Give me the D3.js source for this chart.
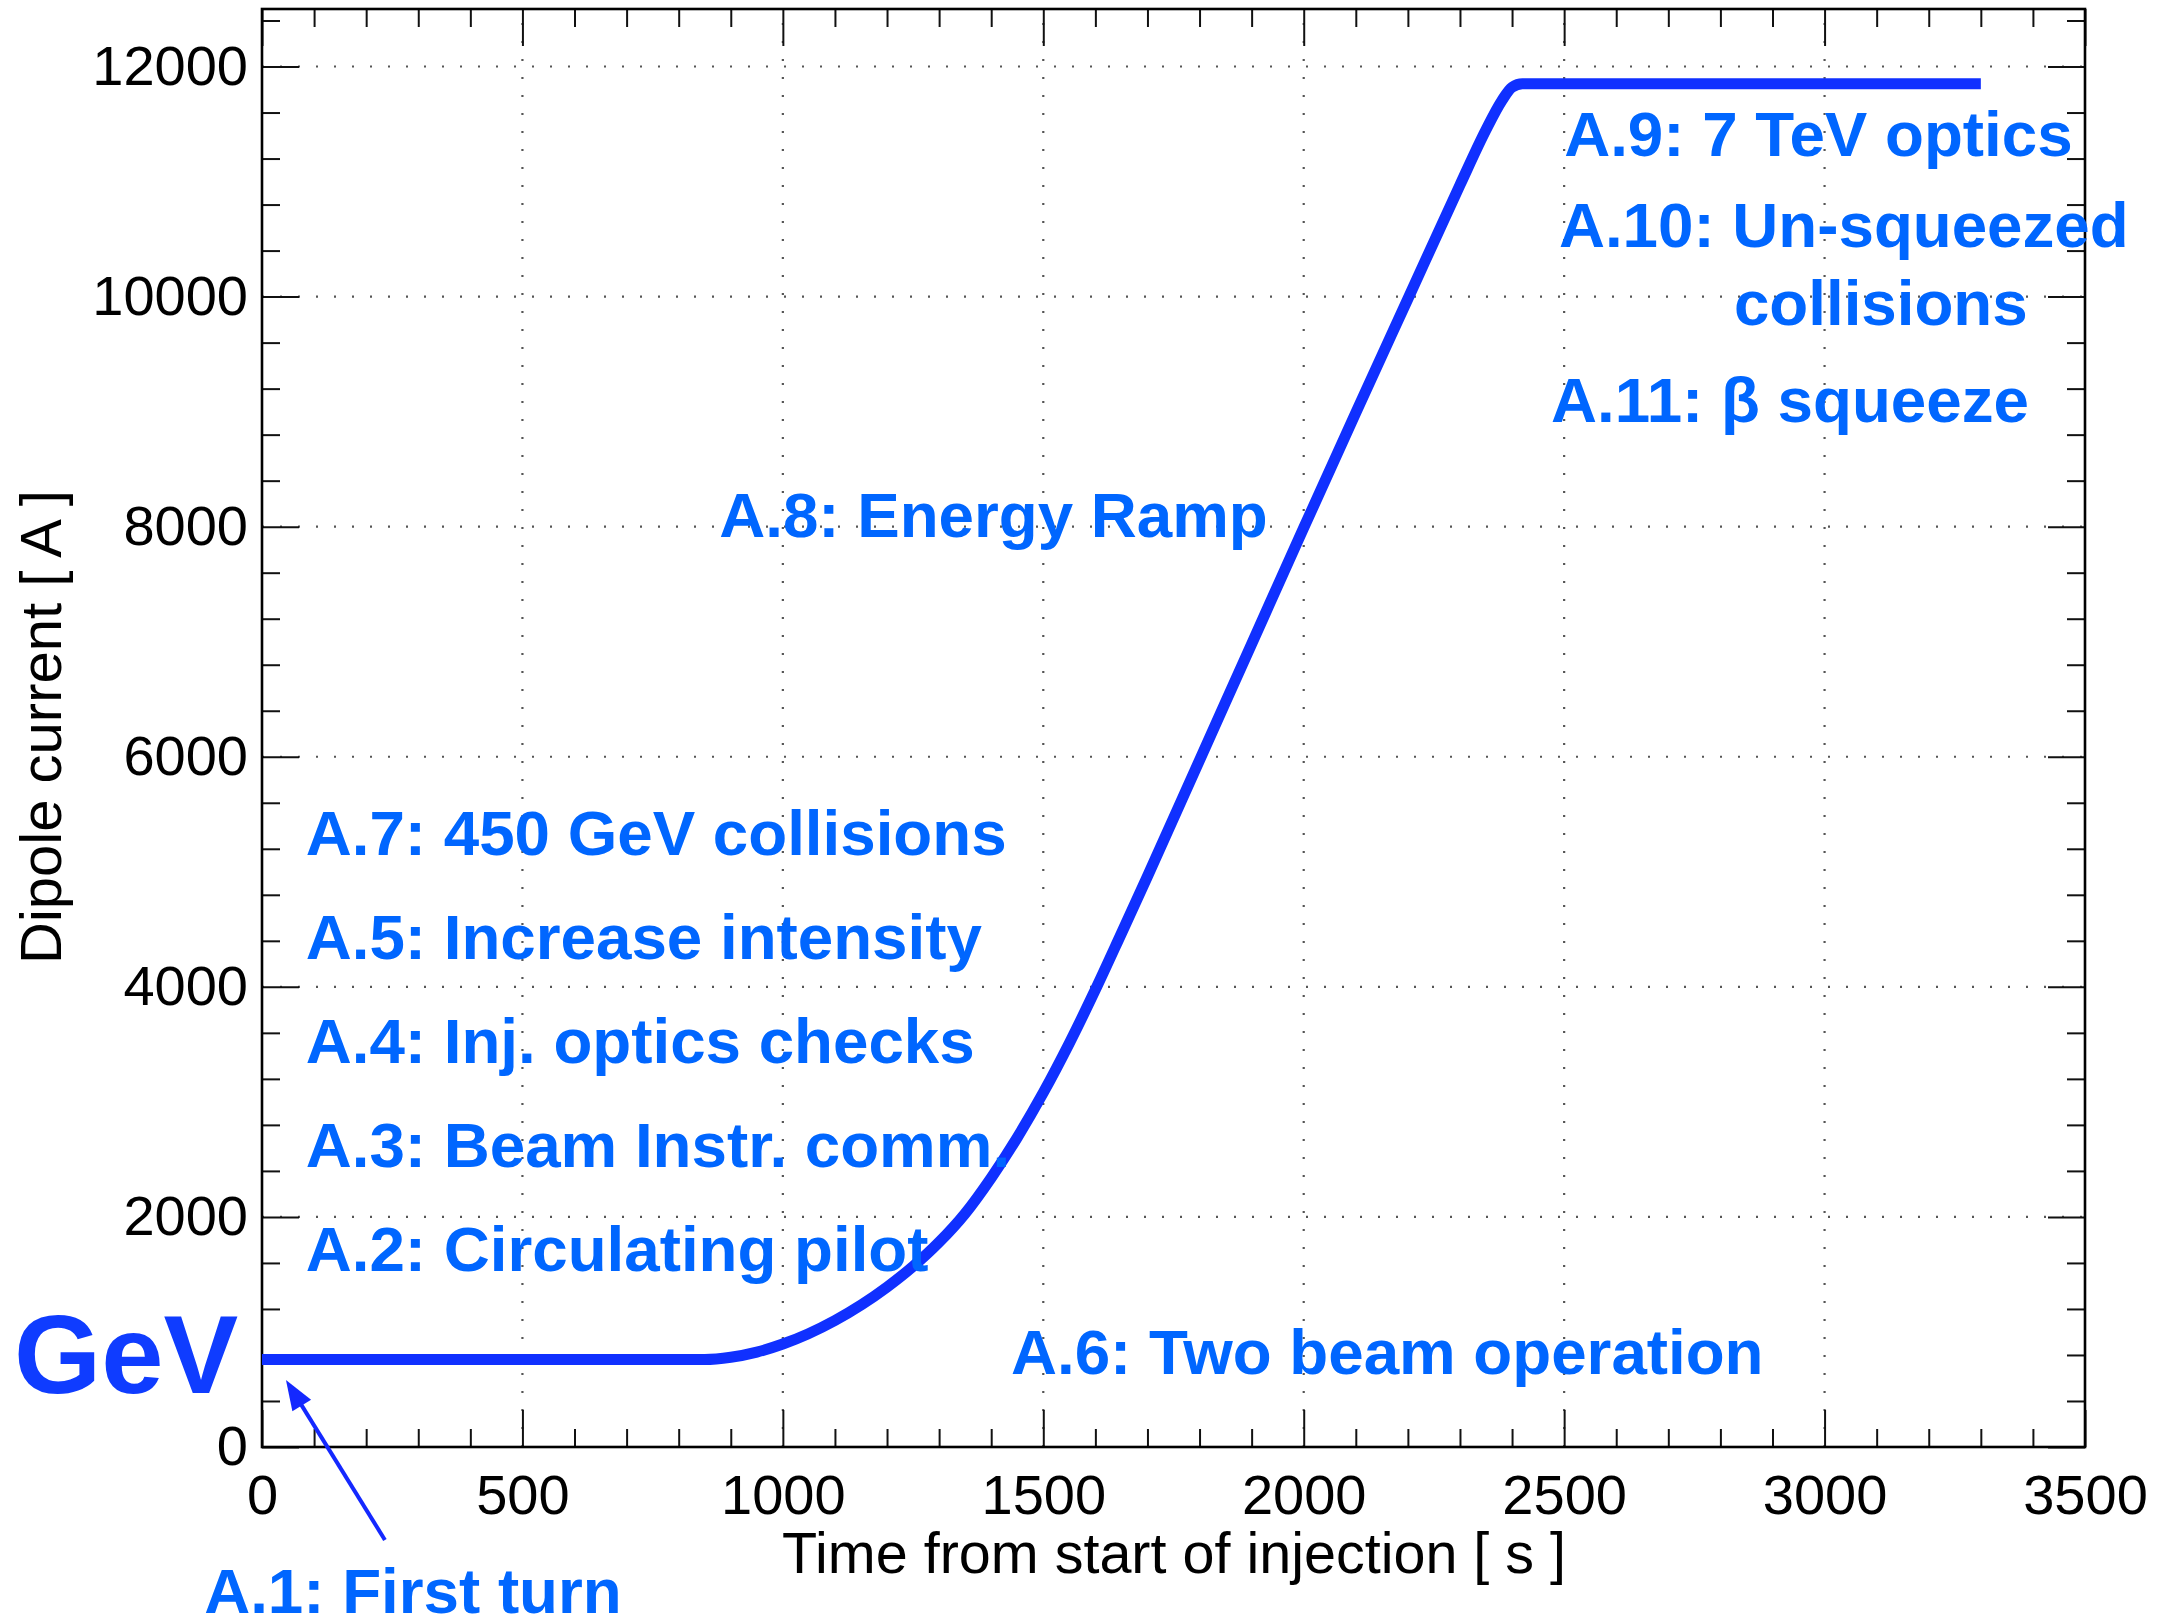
<!DOCTYPE html>
<html>
<head>
<meta charset="utf-8">
<script src="https://cdn.jsdelivr.net/npm/d3@7"></script>
<style>
  html, body { margin: 0; padding: 0; background: #ffffff; }
  svg { display: block; }
  text { font-family: "Liberation Sans", Arial, Helvetica, sans-serif; }
</style>
</head>
<body>
<svg id="chart" width="2159" height="1621"></svg>
<script>
// ---- data ----
const timeS = [0, 850, 900, 950, 1000, 1100, 1200, 1250, 1300, 1350, 1400, 1450, 1500, 1550, 1600, 1650, 1700, 1800, 1900, 2000, 2100, 2200, 2300, 2350, 2380, 2400, 2420, 3300];
const currentA = [760, 760, 780, 825, 895, 1100, 1390, 1570, 1780, 2030, 2340, 2690, 3080, 3510, 3975, 4465, 4960, 5970, 6980, 7990, 8990, 9980, 10970, 11450, 11700, 11820, 11850, 11850];

const xTickValues = [0, 500, 1000, 1500, 2000, 2500, 3000, 3500];
const yTickValues = [0, 2000, 4000, 6000, 8000, 10000, 12000];

const phaseLabels = ["A.7: 450 GeV collisions", "A.5: Increase intensity", "A.4: Inj. optics checks", "A.3: Beam Instr. comm.", "A.2: Circulating pilot", "A.6: Two beam operation", "A.8: Energy Ramp", "A.9: 7 TeV optics", "A.10: Un-squeezed", "collisions", "A.11: β squeeze", "A.1: First turn"];
// label anchor positions in data units (time [s], current [A])
const phaseT = [84, 84, 84, 84, 84, 1438, 1931, 2500, 2490, 2826, 2475, -111];
const phaseI = [5146, 4242, 3338, 2434, 1530, 635, 7910, 11222, 10431, 9753, 8910, -1443];
const phaseAnchor = ["start", "start", "start", "start", "start", "start", "end", "start", "start", "start", "start", "start"];

const energyLabel = "GeV";
const energyT = -476, energyI = 469;
// arrow for A.1 (tail -> tip), data units
const arrowT = [236, 46];
const arrowI = [-808, 582];

// ---- layout ----
const W = 2159, H = 1621;
const L = 262, R = 2085, T = 9, B = 1447;
const x = d3.scaleLinear().domain([0, 3500]).range([L, R]);
const y = d3.scaleLinear().domain([0, 12500]).range([B, T]);

const svg = d3.select("#chart");
svg.append("rect").attr("width", W).attr("height", H).attr("fill", "#fff");

// grid (dotted)
const grid = svg.append("g").attr("stroke", "#555").attr("stroke-width", 2.2).attr("stroke-dasharray", "2 16");
grid.selectAll("line.gx").data(xTickValues.filter(v => v > 0 && v < 3500)).join("line")
  .attr("x1", d => x(d)).attr("x2", d => x(d)).attr("y1", B).attr("y2", T);
grid.selectAll("line.gy").data(yTickValues.filter(v => v > 0)).join("line")
  .attr("class", "gy")
  .attr("y1", d => y(d)).attr("y2", d => y(d)).attr("x1", L).attr("x2", R);

// axes
const majorLen = 37, minorLen = 18;
const xMinor = d3.range(0, 3501, 100).filter(v => v % 500 !== 0);
const yMinor = d3.range(0, 12501, 400).filter(v => v % 2000 !== 0);

function styleAxis(g) {
  g.select(".domain").remove();
  g.selectAll(".tick line").attr("stroke", "#111").attr("stroke-width", 2);
  g.selectAll(".tick text").attr("font-size", 56).attr("fill", "#000")
   .attr("font-family", '"Liberation Sans", Arial, Helvetica, sans-serif');
}

svg.append("g").attr("transform", `translate(0,${B})`)
  .call(d3.axisBottom(x).tickValues(xTickValues).tickFormat(d3.format("d")).tickSize(-majorLen).tickSizeOuter(0).tickPadding(27))
  .call(styleAxis);
svg.append("g").attr("transform", `translate(0,${B})`)
  .call(d3.axisBottom(x).tickValues(xMinor).tickFormat("").tickSize(-minorLen).tickSizeOuter(0))
  .call(styleAxis);
svg.append("g").attr("transform", `translate(0,${T})`)
  .call(d3.axisTop(x).tickValues(xTickValues).tickFormat("").tickSize(-majorLen).tickSizeOuter(0))
  .call(styleAxis);
svg.append("g").attr("transform", `translate(0,${T})`)
  .call(d3.axisTop(x).tickValues(xMinor).tickFormat("").tickSize(-minorLen).tickSizeOuter(0))
  .call(styleAxis);
svg.append("g").attr("transform", `translate(${L},0)`)
  .call(d3.axisLeft(y).tickValues(yTickValues).tickFormat(d3.format("d")).tickSize(-majorLen).tickSizeOuter(0).tickPadding(14))
  .call(styleAxis);
svg.append("g").attr("transform", `translate(${L},0)`)
  .call(d3.axisLeft(y).tickValues(yMinor).tickFormat("").tickSize(-minorLen).tickSizeOuter(0))
  .call(styleAxis);
svg.append("g").attr("transform", `translate(${R},0)`)
  .call(d3.axisRight(y).tickValues(yTickValues).tickFormat("").tickSize(-majorLen).tickSizeOuter(0))
  .call(styleAxis);
svg.append("g").attr("transform", `translate(${R},0)`)
  .call(d3.axisRight(y).tickValues(yMinor).tickFormat("").tickSize(-minorLen).tickSizeOuter(0))
  .call(styleAxis);

// frame
svg.append("rect").attr("x", L).attr("y", T).attr("width", R - L).attr("height", B - T)
  .attr("fill", "none").attr("stroke", "#000").attr("stroke-width", 2.6);

// axis titles
svg.append("text").attr("x", 1566).attr("y", 1573).attr("text-anchor", "end")
  .attr("font-size", 57.5).attr("fill", "#000").text("Time from start of injection [ s ]");
svg.append("text").attr("transform", "translate(61,727) rotate(-90)").attr("text-anchor", "middle")
  .attr("font-size", 58).attr("fill", "#000").text("Dipole current [ A ]");

// curve
const pts = timeS.map((t, i) => [t, currentA[i]]);
const line = d3.line().x(d => x(d[0])).y(d => y(d[1])).curve(d3.curveMonotoneX);
svg.append("path").datum(pts).attr("d", line)
  .attr("fill", "none").attr("stroke", "#1030ff").attr("stroke-width", 11).attr("stroke-linejoin", "round");

// labels
svg.append("g").selectAll("text").data(phaseLabels).join("text")
  .attr("x", (d, i) => x(phaseT[i])).attr("y", (d, i) => y(phaseI[i]))
  .attr("text-anchor", (d, i) => phaseAnchor[i])
  .attr("font-size", 63.7).attr("font-weight", "bold").attr("fill", "#0066ff")
  .text(d => d);

svg.append("text").attr("x", x(energyT)).attr("y", y(energyI))
  .attr("font-size", 112).attr("font-weight", "bold").attr("fill", "#0f3cff").text(energyLabel);

// arrow
const ax0 = x(arrowT[0]), ay0 = y(arrowI[0]), ax1 = x(arrowT[1]), ay1 = y(arrowI[1]);
const ang = Math.atan2(ay1 - ay0, ax1 - ax0);
const hl = 30, hw = 11;
const bx = ax1 - hl * Math.cos(ang), by = ay1 - hl * Math.sin(ang);
svg.append("line").attr("x1", ax0).attr("y1", ay0).attr("x2", bx + 4 * Math.cos(ang)).attr("y2", by + 4 * Math.sin(ang))
  .attr("stroke", "#1428ff").attr("stroke-width", 4);
svg.append("polygon")
  .attr("points", [[ax1, ay1], [bx + hw * Math.sin(ang), by - hw * Math.cos(ang)], [bx - hw * Math.sin(ang), by + hw * Math.cos(ang)]].map(p => p.join(",")).join(" "))
  .attr("fill", "#1428ff");
</script>
</body>
</html>
